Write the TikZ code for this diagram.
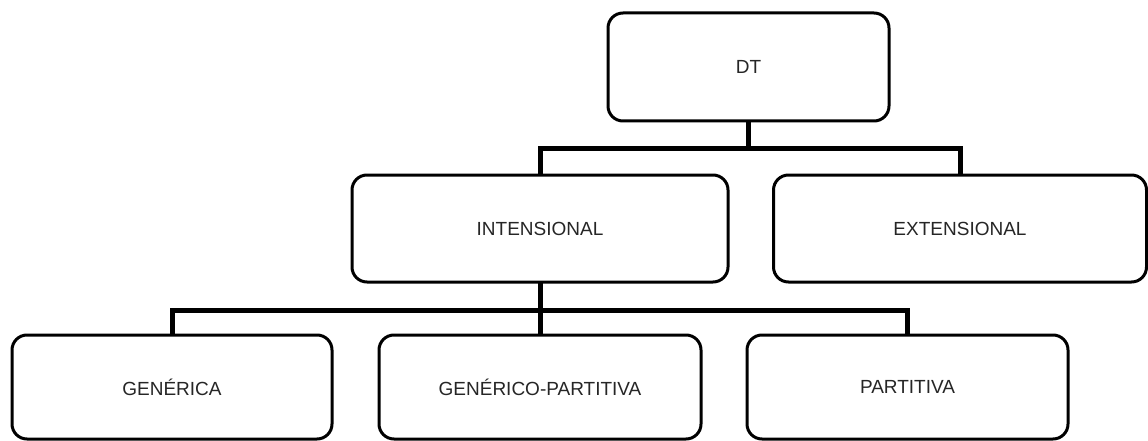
\documentclass[tikz,border=0pt]{standalone}
\usepackage{fontspec}
\setmainfont{Liberation Sans}
\begin{document}
\begin{tikzpicture}[x=1pt,y=-1pt,
  box/.style={draw=black,line width=3pt,rounded corners=15pt,fill=white,
    minimum width=#1,minimum height=107pt,inner sep=0pt,outer sep=0pt,
    font=\fontsize{19}{22}\selectfont,text=black!85},
  conn/.style={line width=5pt,draw=black}]
\useasboundingbox (0,0) rectangle (1148,441);
\fill[white] (0,0) rectangle (1148,441);
\coordinate (b1) at (748.5,148);
\coordinate (b2) at (540,310);
\draw[conn] (748.5,67) -- (b1);
\draw[conn] (540,228) |- (b1) -| (960,228);
\draw[conn] (540,228) -- (540,387);
\draw[conn] (172,387) |- (b2) -| (907.5,387);
\node[box=281pt,minimum height=108pt] (dt) at (748.5,67) {DT};
\node[box=376pt] (int) at (540,228.5) {INTENSIONAL};
\node[box=373pt] (ext) at (960,228.5) {EXTENSIONAL};
\node[box=320pt,minimum height=104pt] (gen) at (172,387) {GENÉRICA};
\node[box=322pt,minimum height=104pt] (gp) at (540,387) {GENÉRICO-PARTITIVA};
\node[box=321pt,minimum height=104pt] (par) at (907.5,387) {PARTITIVA};
\end{tikzpicture}
\end{document}
